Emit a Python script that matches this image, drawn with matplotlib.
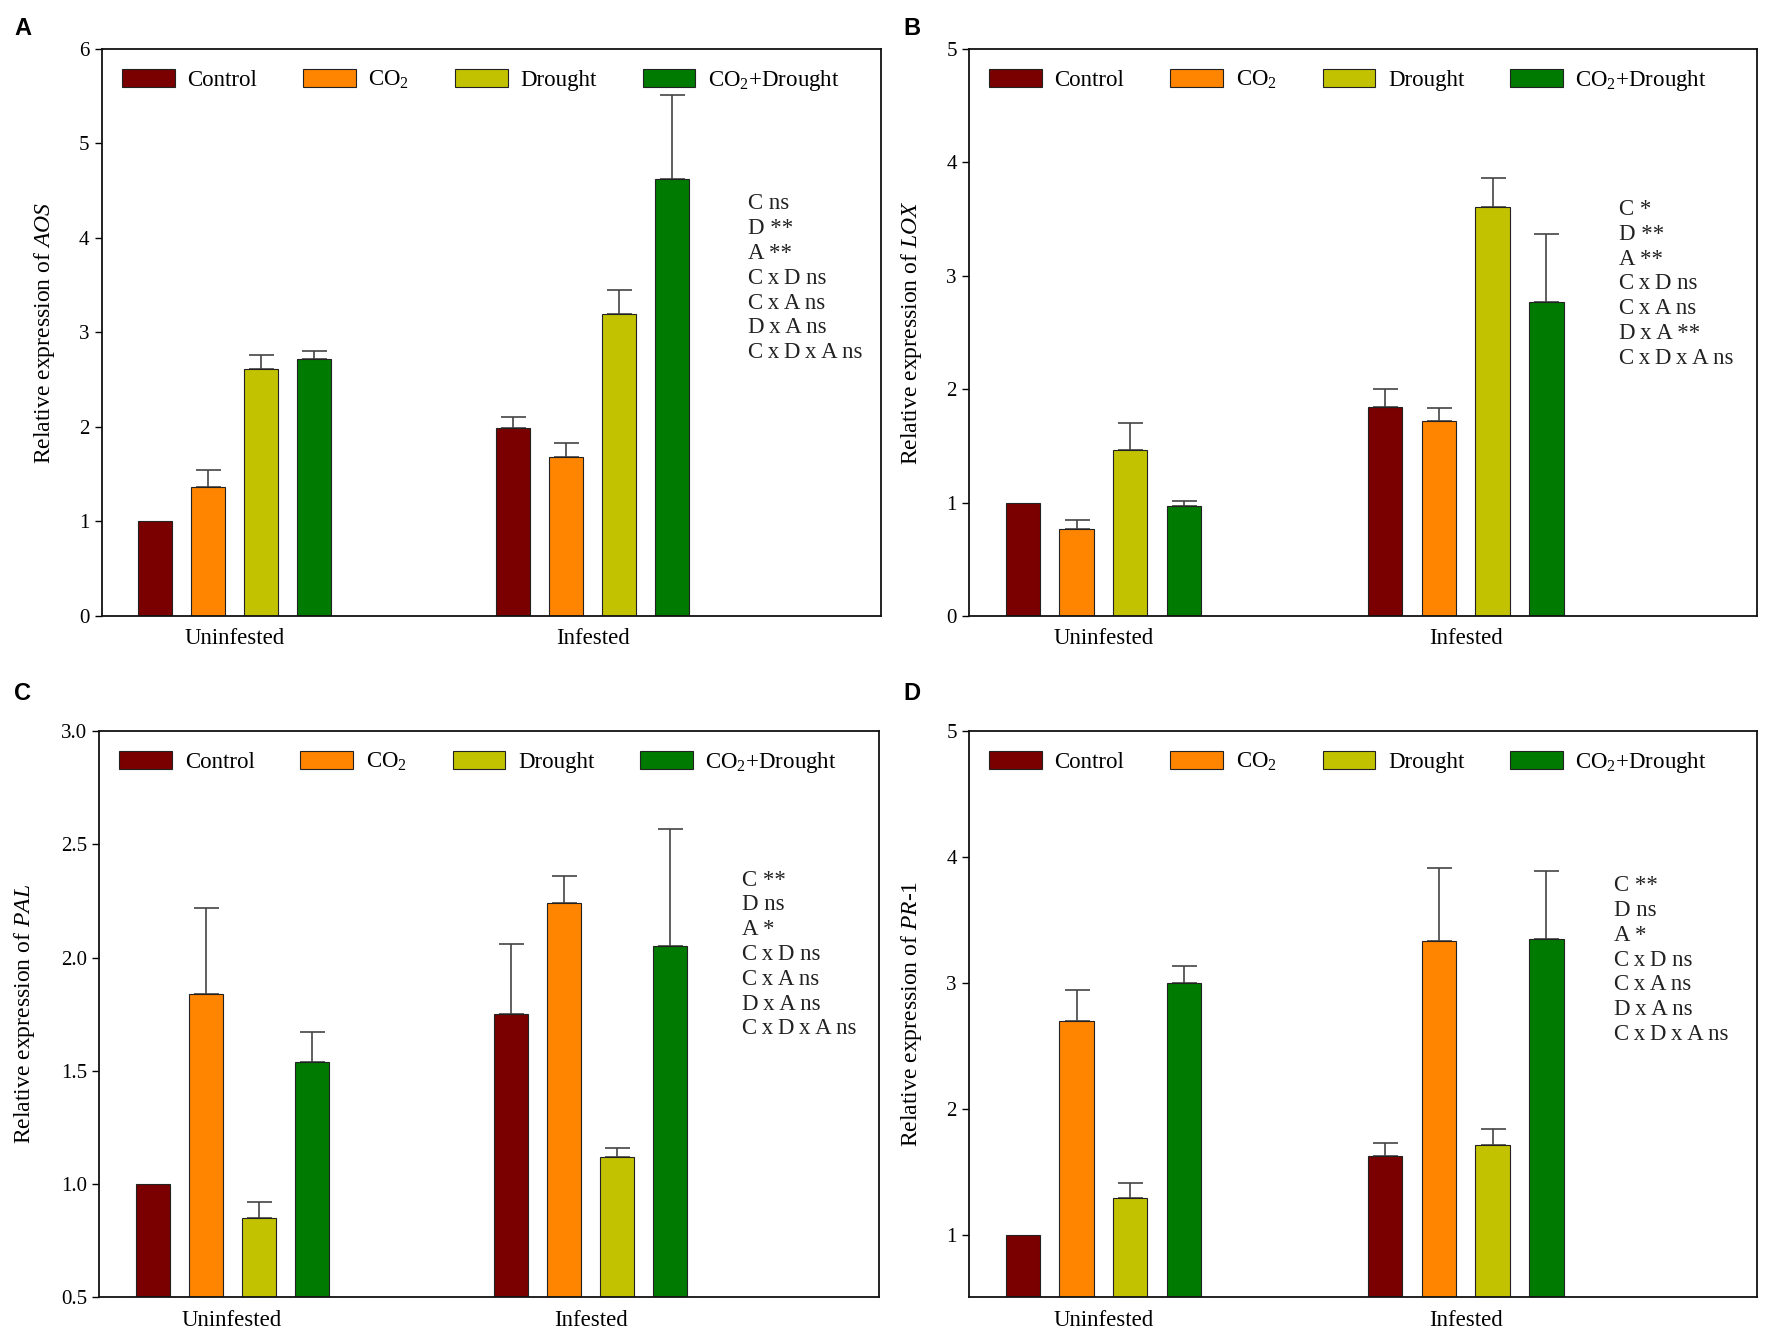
import matplotlib
matplotlib.use("Agg")
import matplotlib.pyplot as plt
import numpy as np

plt.rcParams['font.family'] = ['Liberation Serif', 'DejaVu Serif']
plt.rcParams['mathtext.fontset'] = 'custom'
plt.rcParams['mathtext.rm'] = 'Liberation Serif'
plt.rcParams['mathtext.it'] = 'Liberation Serif:italic'
plt.rcParams['mathtext.bf'] = 'Liberation Serif:bold'

treatments = ["Control", "CO$_2$", "Drought", "CO$_2$+Drought"]
groups = ["Uninfested", "Infested"]
colors = ["#7a0000", "#ff8400", "#c2c200", "#007a00"]

# values: [uninfested x4, infested x4]
aos_mean = [1.00, 1.37, 2.61, 2.72, 1.99, 1.68, 3.20, 4.62]
aos_err = [0.00, 0.17, 0.15, 0.08, 0.12, 0.15, 0.25, 0.89]
lox_mean = [1.00, 0.77, 1.46, 0.97, 1.84, 1.72, 3.61, 2.77]
lox_err = [0.00, 0.08, 0.24, 0.04, 0.16, 0.11, 0.25, 0.60]
pal_mean = [1.00, 1.84, 0.85, 1.54, 1.75, 2.24, 1.12, 2.05]
pal_err = [0.00, 0.38, 0.07, 0.13, 0.31, 0.12, 0.04, 0.52]
pr1_mean = [1.00, 2.70, 1.29, 3.00, 1.62, 3.33, 1.71, 3.35]
pr1_err = [0.00, 0.24, 0.12, 0.13, 0.11, 0.58, 0.13, 0.54]

stats_A = ["C ns", "D **", "A **", "CxD ns", "CxA ns", "DxA ns", "CxDxA ns"]
stats_B = ["C *", "D **", "A **", "CxD ns", "CxA ns", "DxA **", "CxDxA ns"]
stats_C = ["C **", "D ns", "A *", "CxD ns", "CxA ns", "DxA ns", "CxDxA ns"]
stats_D = ["C **", "D ns", "A *", "CxD ns", "CxA ns", "DxA ns", "CxDxA ns"]

panels = [
    dict(letter="A", gene="AOS", mean=aos_mean, err=aos_err, stats=stats_A,
         ylim=(0, 6), ticks=[0, 1, 2, 3, 4, 5, 6], fmt="{:.0f}",
         rect=[0.0576, 0.541, 0.4394, 0.4225], st=(0.829, 0.727),
         lpos=(0.008, 0.979), lpad=16),
    dict(letter="B", gene="LOX", mean=lox_mean, err=lox_err, stats=stats_B,
         ylim=(0, 5), ticks=[0, 1, 2, 3, 4, 5], fmt="{:.0f}",
         rect=[0.547, 0.541, 0.4447, 0.4225], st=(0.824, 0.717),
         lpos=(0.510, 0.979), lpad=16),
    dict(letter="C", gene="PAL", mean=pal_mean, err=pal_err, stats=stats_C,
         ylim=(0.5, 3.0), ticks=[0.5, 1.0, 1.5, 2.0, 2.5, 3.0], fmt="{:.1f}",
         rect=[0.0561, 0.0332, 0.4399, 0.422], st=(0.825, 0.737),
         lpos=(0.008, 0.483), lpad=17),
    dict(letter="D", gene="PR-1", mean=pr1_mean, err=pr1_err, stats=stats_D,
         ylim=(0.5, 5), ticks=[1, 2, 3, 4, 5], fmt="{:.0f}",
         rect=[0.547, 0.0332, 0.4447, 0.422], st=(0.818, 0.727),
         lpos=(0.510, 0.483), lpad=16),
]

fig = plt.figure(figsize=(17.72, 13.42), dpi=100)

group_start = [1.0, 7.75]
bar_w = 0.64

def spaced(s):
    return s.replace("x", "\u2009x\u2009")

for p in panels:
    ax = fig.add_axes(p["rect"])
    base = p["ylim"][0]
    for i, t in enumerate(treatments):
        xs = [group_start[0] + i, group_start[1] + i]
        vals = [p["mean"][i], p["mean"][4 + i]]
        errs = [p["err"][i], p["err"][4 + i]]
        ax.bar(xs, np.array(vals) - base, bottom=base, width=bar_w,
               color=colors[i], edgecolor="#222222", linewidth=0.8,
               label=t, zorder=2)
        for x, v, e in zip(xs, vals, errs):
            if e > 0:
                ax.errorbar([x], [v], yerr=[[0], [e]], fmt="none",
                            ecolor="#444444", elinewidth=1.2, capsize=9,
                            capthick=1.2, zorder=1)
    ax.set_xlim(0, 14.68)
    ax.set_ylim(*p["ylim"])
    ax.set_yticks(p["ticks"])
    ax.set_yticklabels([p["fmt"].format(v) for v in p["ticks"]], fontsize=15)
    centers = [group_start[0] + 1.5, group_start[1] + 1.5]
    ax.set_xticks(centers)
    ax.set_xticklabels(groups, fontsize=16.5)
    ax.tick_params(axis="x", length=0, pad=9)
    ax.tick_params(axis="y", direction="out", length=5, width=1, pad=4)
    for s in ax.spines.values():
        s.set_linewidth(1.3)
        s.set_color("#111111")
    gene = p["gene"]
    if gene == "PR-1":
        glabel = r"$\mathit{PR}$-$\mathit{1}$"
    else:
        glabel = r"$\mathit{" + gene + "}$"
    ax.set_ylabel("Relative expression of " + glabel, fontsize=17,
                  labelpad=p["lpad"])
    ax.legend(loc="upper left", bbox_to_anchor=(0.005, 0.995), ncol=4,
              frameon=False, fontsize=16.5, handlelength=2.3,
              handleheight=0.8, handletextpad=0.55, columnspacing=2.0,
              borderaxespad=0.3)
    sx, sy = p["st"]
    for k, line in enumerate(p["stats"]):
        ax.text(sx, sy - k * 0.0438, spaced(line), transform=ax.transAxes,
                fontsize=16.5, va="center", ha="left", color="#222222")
    fig.text(p["lpos"][0], p["lpos"][1], p["letter"], fontsize=17,
             fontweight="bold", family=["Liberation Sans", "DejaVu Sans"],
             va="center", ha="left")

fig.savefig("out.png", dpi=100)
